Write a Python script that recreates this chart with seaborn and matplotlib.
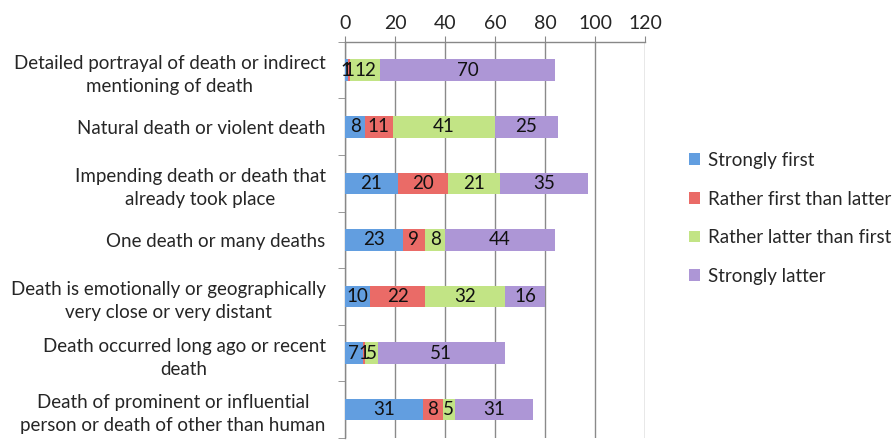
import numpy as np
import pandas as pd
import matplotlib
matplotlib.use("Agg")
import matplotlib.pyplot as plt
import seaborn as sns
from matplotlib.patches import Patch

categories = [
    "Detailed portrayal of death or indirect\nmentioning of death",
    "Natural death or violent death",
    "Impending death or death that\nalready took place",
    "One death or many deaths",
    "Death is emotionally or geographically\nvery close or very distant",
    "Death occurred long ago or recent\ndeath",
    "Death of prominent or influential\nperson or death of other than human",
]
series = ["Strongly first", "Rather first than latter",
          "Rather latter than first", "Strongly latter"]
strongly_first = [1, 8, 21, 23, 10, 7, 31]
rather_first = [1, 11, 20, 9, 22, 1, 8]
rather_latter = [12, 41, 21, 8, 32, 5, 5]
strongly_latter = [70, 25, 35, 44, 16, 51, 31]
colors = ["#629ee0", "#ea6b67", "#c2e485", "#ad96d6"]

sns.set_style("white")
plt.rcParams["font.family"] = ["Lato", "DejaVu Sans"]

df = pd.DataFrame({"category": categories,
                   series[0]: strongly_first, series[1]: rather_first,
                   series[2]: rather_latter, series[3]: strongly_latter})
vals = df[series].to_numpy(dtype=float)
cum = np.cumsum(vals, axis=1)

fig = plt.figure(figsize=(8.94, 4.41), dpi=100)
ax = fig.add_axes([0.386, 0.007, 0.3356, 0.898])

# stacked bars: draw cumulative totals from the back to the front
for i in range(len(series) - 1, -1, -1):
    tmp = pd.DataFrame({"category": categories, "v": cum[:, i]})
    sns.barplot(data=tmp, x="v", y="category", orient="h", color=colors[i],
                width=0.38, saturation=1, ax=ax, linewidth=0, zorder=3)

for r in range(len(categories)):
    for i in range(len(series)):
        centre = cum[r, i] - vals[r, i] / 2
        ax.text(centre, r, "%d" % vals[r, i], ha="center", va="center",
                fontsize=13.5, color="#111111", zorder=5)

ax.set_xlim(0, 120)
ax.set_ylim(6.5, -0.5)
ax.set_xticks(range(0, 121, 20))
ax.xaxis.tick_top()
ax.tick_params(axis="x", which="major", top=True, length=4, color="#888888",
               labelsize=14, pad=3)
ax.set_xlabel("")
ax.set_ylabel("")
ax.grid(axis="x", color="#8a8a8a", linewidth=1.0, zorder=0)
ax.grid(axis="y", visible=False)
ax.set_axisbelow(True)

ax.set_yticks(range(len(categories)))
ax.set_yticklabels(categories, fontsize=13.5)
for t in ax.get_yticklabels():
    t.set_multialignment("center")
    t.set_linespacing(1.45)
ax.set_yticks(np.arange(-0.5, len(categories), 1.0), minor=True)
ax.tick_params(axis="y", which="major", length=0, pad=14)
ax.tick_params(axis="y", which="minor", left=True, length=5, color="#888888")

for s in ["right", "bottom"]:
    ax.spines[s].set_visible(False)
for s in ["left", "top"]:
    ax.spines[s].set_color("#888888")
    ax.spines[s].set_linewidth(1.0)

handles = [Patch(facecolor=c, edgecolor="none") for c in colors]
fig.legend(handles, series, loc="center left", bbox_to_anchor=(0.752, 0.505),
           frameon=False, fontsize=13.5, handlelength=0.6, handleheight=0.6,
           handletextpad=0.4, labelspacing=1.15)

fig.savefig("out.png", dpi=100)
